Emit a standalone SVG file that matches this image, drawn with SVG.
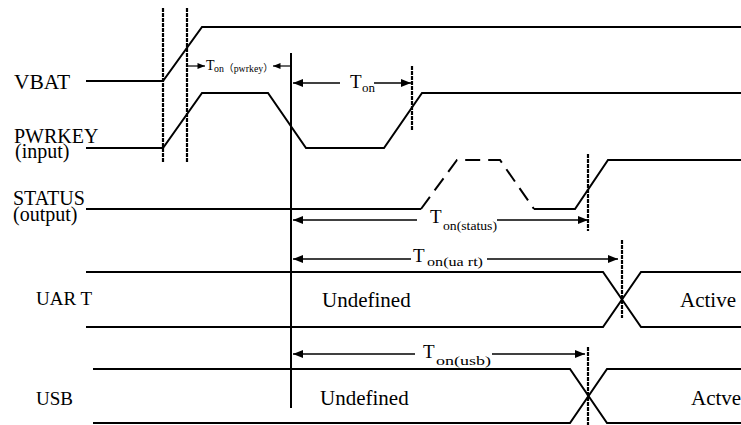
<svg xmlns="http://www.w3.org/2000/svg" width="741" height="425" viewBox="0 0 741 425">
<defs>
<style>
.sig{fill:none;stroke:#000;stroke-width:2;stroke-linejoin:miter}
.dsig{fill:none;stroke:#000;stroke-width:2;stroke-dasharray:15 8}
.vd{stroke:#000;stroke-width:2.2;stroke-dasharray:4 1}
.vs{stroke:#000;stroke-width:2}
.ar{stroke:#000;stroke-width:1.6;fill:none}
.ar2{stroke:#000;stroke-width:1.2;fill:none}
text{fill:#000}
.lbl{font-size:20px}
.bus{font-size:21px}
.t{font-size:19px}
.sub{font-size:13px}
</style>
<marker id="ah" viewBox="0 0 10 8" refX="10" refY="4" markerWidth="11" markerHeight="8" markerUnits="userSpaceOnUse" orient="auto">
<path d="M0,0 L10,4 L0,8 Z" fill="#000"/>
</marker>
<marker id="ahs" viewBox="0 0 10 8" refX="10" refY="4" markerWidth="8" markerHeight="6" markerUnits="userSpaceOnUse" orient="auto">
<path d="M0,0 L10,4 L0,8 Z" fill="#000"/>
</marker>
</defs>
<rect width="741" height="425" fill="#fff"/>

<g font-family="Liberation Serif, Times New Roman, Noto Sans CJK SC, serif">
<g id="vbat">
<text class="lbl" x="14" y="89" style="font-size:21.5px">VBAT</text>
<polyline class="sig" points="86,81 163,81 202,27 741,27"/>
</g>
<g id="pwrkey">
<text class="lbl" x="14" y="143">PWRKEY</text>
<text class="lbl" x="15" y="158">(input)</text>
<polyline class="sig" points="86,148 163,148 202,93 268,93 306,148 384,148 422,93 741,93"/>
</g>
<g id="status">
<text class="lbl" x="13" y="205">STATUS</text>
<text class="lbl" x="13" y="221">(output)</text>
<polyline class="sig" points="86,209 421,209"/>
<polyline class="dsig" points="421,209 457,160 500,160 534,209"/>
<polyline class="sig" points="534,209 575,209 608,160 741,160"/>
</g>
<g id="uart">
<text class="lbl" x="36" y="305" style="font-size:19px">UAR T</text>
<polyline class="sig" points="86,272 603,272 641,327 741,327"/>
<polyline class="sig" points="86,327 603,327 641,272 741,272"/>
<text class="bus" x="322" y="307">Undefined</text>
<text class="bus" x="680" y="307">Active</text>
</g>
<g id="usb">
<text class="lbl" x="36" y="405" style="font-size:19px">USB</text>
<polyline class="sig" points="93,369 570,369 607,423 741,423"/>
<polyline class="sig" points="93,423 570,423 607,369 741,369"/>
<text class="bus" x="320" y="405">Undefined</text>
<text class="bus" x="691" y="405">Actve</text>
</g>

<g id="connectors">
<line class="vd" x1="163" y1="8" x2="163" y2="162"/>
<line class="vd" x1="187" y1="8" x2="187" y2="162"/>
<line class="vs" x1="291" y1="53" x2="291" y2="408"/>
<line class="vd" x1="412" y1="66" x2="412" y2="131"/>
<line class="vd" x1="588" y1="154" x2="588" y2="231"/>
<line class="vd" x1="622" y1="240" x2="622" y2="318"/>
<line class="vd" x1="588" y1="347" x2="588" y2="425"/>

<line class="ar2" x1="188" y1="66" x2="205" y2="66" marker-end="url(#ahs)"/>
<line class="ar2" x1="290" y1="66" x2="273" y2="66" marker-end="url(#ahs)"/>
<line class="ar" x1="340" y1="83" x2="293" y2="83" marker-end="url(#ah)"/>
<line class="ar" x1="374" y1="83" x2="411" y2="83" marker-end="url(#ah)"/>
<line class="ar" x1="417" y1="220" x2="293" y2="220" marker-end="url(#ah)"/>
<line class="ar" x1="497" y1="220" x2="588" y2="220" marker-end="url(#ah)"/>
<line class="ar" x1="411" y1="259" x2="293" y2="259" marker-end="url(#ah)"/>
<line class="ar" x1="487" y1="259" x2="618" y2="259" marker-end="url(#ah)"/>
<line class="ar" x1="415" y1="354" x2="293" y2="354" marker-end="url(#ah)"/>
<line class="ar" x1="492" y1="354" x2="585" y2="354" marker-end="url(#ah)"/>
</g>

<g id="labels">
<text class="t" x="206" y="70" style="font-size:14px">T</text>
<text class="sub" x="214" y="72" style="font-size:10px" textLength="59" lengthAdjust="spacingAndGlyphs">on（pwrkey）</text>
<text class="t" x="350" y="88">T</text>
<text class="sub" x="362" y="92" textLength="13" lengthAdjust="spacingAndGlyphs">on</text>
<text class="t" x="430" y="223">T</text>
<text class="sub" x="443" y="230" textLength="54" lengthAdjust="spacingAndGlyphs">on(status)</text>
<text class="t" x="413" y="262">T</text>
<text class="sub" x="427" y="266" textLength="56" lengthAdjust="spacingAndGlyphs">on(ua rt)</text>
<text class="t" x="423" y="358">T</text>
<text class="sub" x="436" y="365" textLength="55" lengthAdjust="spacingAndGlyphs">on(usb)</text>
</g>
</g>
</svg>
